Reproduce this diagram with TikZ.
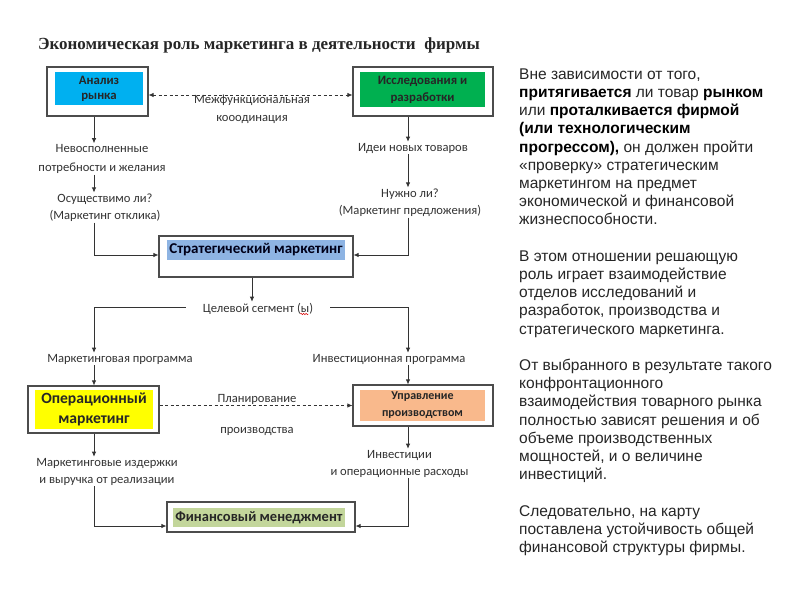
\documentclass[tikz,border=0pt]{standalone}
\usepackage{fontspec}
\setmainfont{Liberation Sans}
\newfontfamily\carl{Carlito}
\newfontfamily\ttlfont{Liberation Serif}
\usetikzlibrary{arrows.meta,decorations.pathmorphing}
\definecolor{cblue}{HTML}{00B0F0}
\definecolor{cgreen}{HTML}{00B050}
\definecolor{cstrat}{HTML}{8EB4E3}
\definecolor{cyel}{HTML}{FFFF00}
\definecolor{csalm}{HTML}{F9B98C}
\definecolor{cfin}{HTML}{C3D69B}
\definecolor{ctxt}{HTML}{262626}
\begin{document}
\begin{tikzpicture}[x=1pt,y=-1pt,
 outer/.style={draw=black!70, line width=1.1pt, fill=white, inner sep=0pt},
 inbox/.style={inner sep=0pt, align=center, text=black!85},
 lbl/.style={font=\carl\fontsize{12.6}{18}\selectfont, align=center, text=black!80, inner sep=1pt},
 arr/.style={-{Latex[length=5pt,width=4.5pt]}, line width=0.8pt, draw=black!80},
 dasharr/.style={arr, dash pattern=on 3pt off 2.5pt},
 squig/.style={draw=red!85!black, line width=0.5pt, decorate, decoration={snake, amplitude=0.7pt, segment length=2.5pt}},
]
\useasboundingbox (0,0) rectangle (800,600);
\fill[white] (0,0) rectangle (800,600);

% column coordinates
\coordinate (colL) at (94,0);
\coordinate (colR) at (408,0);
\coordinate (colM) at (252,0);

% title
\node[font=\ttlfont\bfseries\fontsize{17}{20}\selectfont, text=black!85, inner sep=0pt] (title) at (259,45) {Экономическая роль маркетинга в деятельности\ \ фирмы};

% top boxes
\node[outer, minimum width=101pt, minimum height=49pt] (ar) at (97.5,91.5) {};
\node[inbox, fill=cblue, minimum width=88pt, minimum height=33pt, font=\carl\bfseries\fontsize{12.8}{15}\selectfont] (art) at (99,88.5) {Анализ\\рынка};

\node[outer, minimum width=140pt, minimum height=49pt] (rd) at (423,91.5) {};
\node[inbox, fill=cgreen, minimum width=125pt, minimum height=35pt, font=\carl\bfseries\fontsize{12.8}{17}\selectfont] (rdt) at (422.5,89.5) {Исследования и\\разработки};

\draw[dasharr, {Latex[length=5pt,width=4.5pt]}-{Latex[length=5pt,width=4.5pt]}] ([yshift=-3.5pt]ar.east) -- ([yshift=-3.5pt]rd.west);
\node[lbl] (coord) at (252,109) {Межфункциональная\\кооодинация};

% left flow
\node[lbl, font=\carl\fontsize{12.6}{19}\selectfont] (n1) at (102,159) {Невосполненные\\потребности и желания};
\node[lbl, font=\carl\fontsize{12.6}{17}\selectfont] (n2) at (105,207.5) {Осуществимо ли?\\(Маркетинг отклика)};
\draw[arr] (ar.south -| colL) -- (n1.north -| colL);
\draw[arr] (n1.south -| colL) -- (n2.north -| colL);

% right flow
\node[lbl] (n3) at (413,148) {Идеи новых товаров};
\node[lbl, font=\carl\fontsize{12.6}{17}\selectfont] (n4) at (410,202.5) {Нужно ли?\\(Маркетинг предложения)};
\draw[arr] (rd.south -| colR) -- (n3.north -| colR);
\draw[arr] (n3.south -| colR) -- (n4.north -| colR);

% strategic marketing
\node[outer, minimum width=194pt, minimum height=41pt] (sm) at (256,256.5) {};
\node[inbox, fill=cstrat, minimum width=178pt, minimum height=20pt, font=\carl\bfseries\fontsize{15}{16}\selectfont, text=black!90!blue] (smt) at (256,250) {Стратегический маркетинг};
\draw[arr] (n2.south -| colL) |- ([yshift=1.5pt]sm.west);
\draw[arr] (n4.south -| colR) |- ([yshift=1.5pt]sm.east);

% target segment
\node[lbl, inner xsep=17pt] (cs) at (258,308.5) {Целевой сегмент (ы)};
\draw[arr] (sm.south -| colM) -- (cs.north -| colM);
\draw[squig] ([xshift=-30pt,yshift=-5.5pt]cs.east) -- ([xshift=-22pt,yshift=-5.5pt]cs.east);

\node[lbl] (mp) at (120,359) {Маркетинговая программа};
\node[lbl] (ip) at (389,359) {Инвестиционная программа};
\draw[arr] ([yshift=1.5pt]cs.west) -| (mp.north -| colL);
\draw[arr] ([yshift=1.5pt]cs.east) -| (ip.north -| colR);

% operational / production
\node[outer, minimum width=131pt, minimum height=47pt] (op) at (93.5,409.5) {};
\node[inbox, fill=cyel, minimum width=118pt, minimum height=39pt, font=\carl\bfseries\fontsize{15.6}{20}\selectfont] (opt) at (94,409.5) {Операционный\\маркетинг};

\node[outer, minimum width=140pt, minimum height=41pt] (pm) at (423,405.5) {};
\node[inbox, fill=csalm, minimum width=125pt, minimum height=31pt, font=\carl\bfseries\fontsize{12}{17}\selectfont] (pmt) at (422.5,405.5) {Управление\\производством};

\draw[arr] (mp.south -| colL) -- (op.north -| colL);
\draw[arr] (ip.south -| colR) -- (pm.north -| colR);

\draw[dasharr] (op.east |- pm.west) -- (pm.west);
\node[lbl, font=\carl\fontsize{12.6}{31}\selectfont] (plan) at (257,414.5) {Планирование\\производства};

% bottom
\node[lbl, font=\carl\fontsize{12.6}{17}\selectfont] (n5) at (107,471.5) {Маркетинговые издержки\\и выручка от реализации};
\node[lbl, font=\carl\fontsize{12.6}{17}\selectfont] (n6) at (399.5,463.5) {Инвестиции\\и операционные расходы};
\draw[arr] (op.south -| colL) -- (n5.north -| colL);
\draw[arr] (pm.south -| colR) -- (n6.north -| colR);

\node[outer, minimum width=188pt, minimum height=30pt] (fm) at (261,517) {};
\node[inbox, fill=cfin, minimum width=172pt, minimum height=19pt, font=\carl\bfseries\fontsize{14.5}{16}\selectfont] (fmt) at (259,517.5) {Финансовый менеджмент};

\draw[arr] (n5.south -| colL) |- ([yshift=-9pt]fm.west);
\draw[arr] (n6.south -| colR) |- ([yshift=-9pt]fm.east);

% right-hand text
\node[anchor=north west, inner sep=0pt, align=left, text=ctxt, font=\fontsize{15.5}{18.2}\selectfont] (body) at (519,68.5) {%
Вне зависимости от того,\\
\textcolor{black}{\textbf{притягивается}} ли товар \textcolor{black}{\textbf{рынком}}\\
или \textcolor{black}{\textbf{проталкивается фирмой}}\\
\textcolor{black}{\textbf{(или технологическим}}\\
\textcolor{black}{\textbf{прогрессом),}} он должен пройти\\
«проверку» стратегическим\\
маркетингом на предмет\\
экономической и финансовой\\
жизнеспособности.\\[18.2pt]
В этом отношении решающую\\
роль играет взаимодействие\\
отделов исследований и\\
разработок, производства и\\
стратегического маркетинга.\\[18.2pt]
От выбранного в результате такого\\
конфронтационного\\
взаимодействия товарного рынка\\
полностью зависят решения и об\\
объеме производственных\\
мощностей, и о величине\\
инвестиций.\\[18.2pt]
Следовательно, на карту\\
поставлена устойчивость общей\\
финансовой структуры фирмы.};
\end{tikzpicture}
\end{document}
